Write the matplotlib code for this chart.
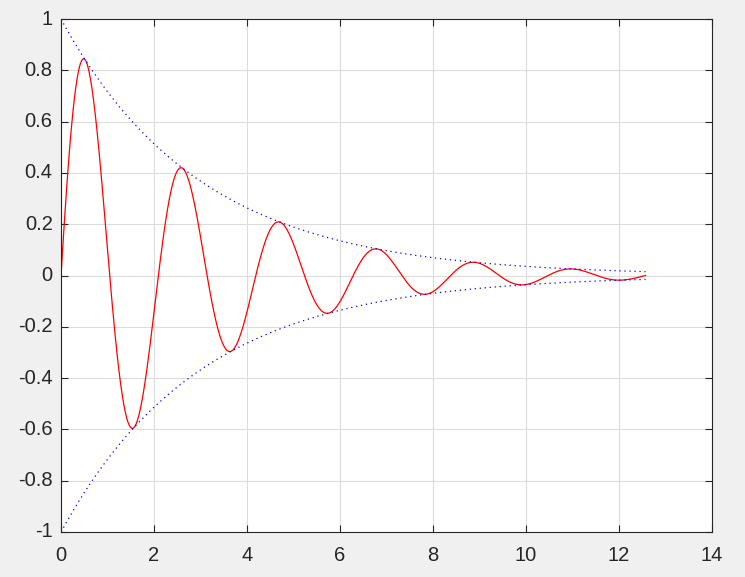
import numpy as np
import matplotlib
matplotlib.use("Agg")
import matplotlib.pyplot as plt

# damped sine: y = exp(-x/3) * sin(3x), x in [0, 4*pi]
x_start, x_end, x_step = 0.0, 4 * np.pi, 0.01
decay = 1.0 / 3.0
omega = 3.0

x_ticks = [0, 2, 4, 6, 8, 10, 12, 14]
y_ticks = [-1, -0.8, -0.6, -0.4, -0.2, 0, 0.2, 0.4, 0.6, 0.8, 1]
x_labels = ["0", "2", "4", "6", "8", "10", "12", "14"]
y_labels = ["-1", "-0.8", "-0.6", "-0.4", "-0.2", "0", "0.2", "0.4", "0.6", "0.8", "1"]

x = np.arange(x_start, x_end + x_step / 2, x_step)
env = np.exp(-decay * x)
y = env * np.sin(omega * x)

plt.rcParams['font.family'] = ['Liberation Sans', 'DejaVu Sans']

fig = plt.figure(figsize=(7.45, 5.77), dpi=100, facecolor="#f0f0f0")
ax = fig.add_axes([0.0819, 0.078, 0.8738, 0.889])

ax.plot(x, y, color="red", lw=0.9)
ax.plot(x, env, color="blue", lw=0.9, linestyle=(0, (1, 3)))
ax.plot(x, -env, color="blue", lw=0.9, linestyle=(0, (1, 3)))

ax.set_xlim(0, 14)
ax.set_ylim(-1, 1)
ax.set_xticks(x_ticks, x_labels)
ax.set_yticks(y_ticks, y_labels)
ax.grid(True, color="#dcdcdc", lw=0.8)
ax.set_axisbelow(True)
ax.tick_params(direction="in", top=True, right=True, length=5, width=0.8,
               labelsize=14.5, colors="#262626")
ax.tick_params(axis="x", pad=10)
ax.tick_params(axis="y", pad=6)
for lbl in ax.get_yticklabels():
    lbl.set_verticalalignment("center")
for s in ax.spines.values():
    s.set_color("#262626")
    s.set_linewidth(0.8)

fig.savefig("out.png", dpi=100, facecolor=fig.get_facecolor())
